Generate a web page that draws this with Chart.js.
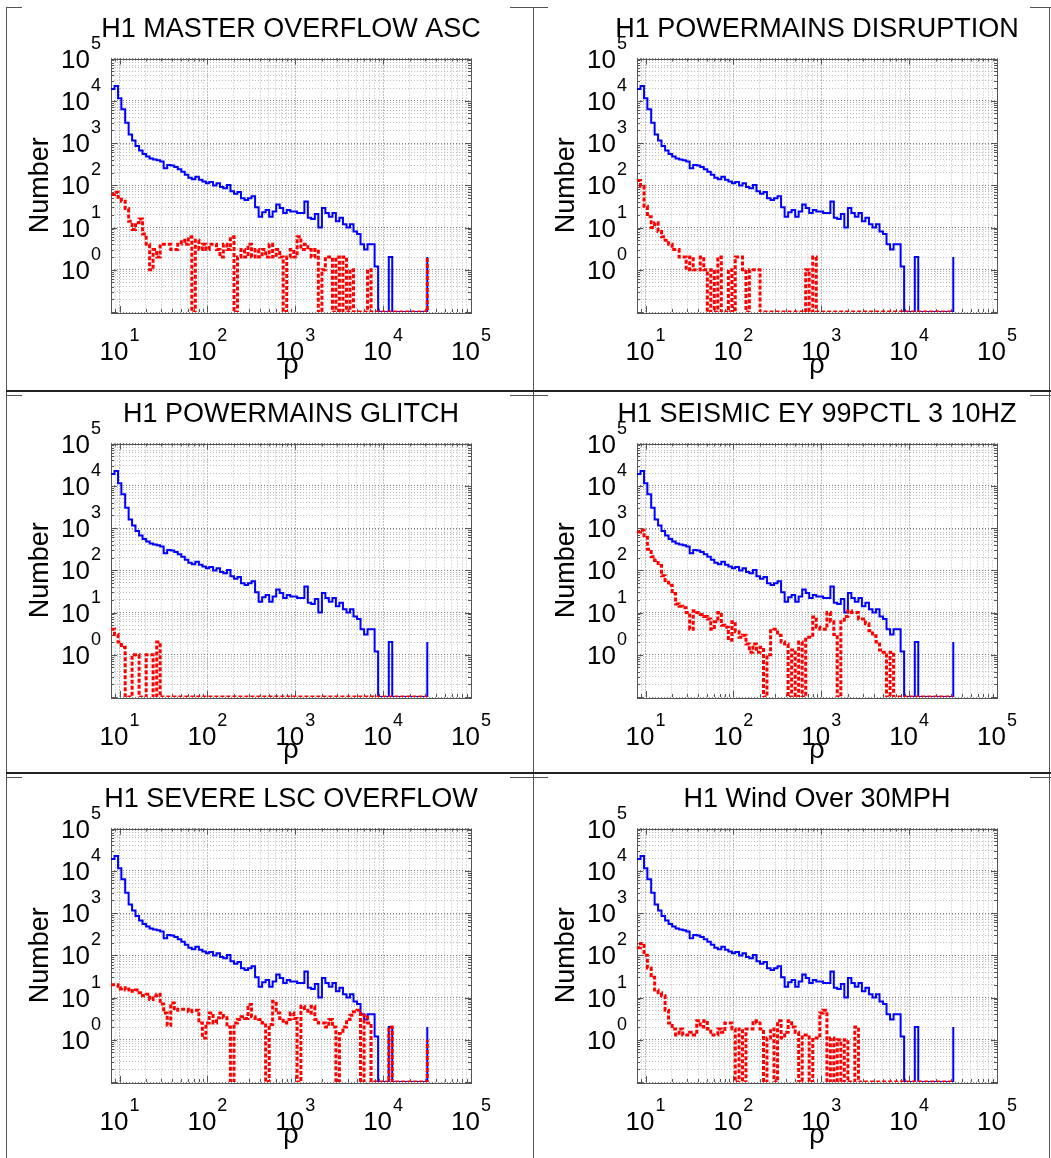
<!DOCTYPE html>
<html>
<head>
<meta charset="utf-8">
<script src="https://cdn.jsdelivr.net/npm/chart.js@4.4.1/dist/chart.umd.min.js"></script>
<style>
  html, body { margin: 0; padding: 0; background: #fff; overflow: hidden; }
  #page { position: relative; width: 1051px; height: 1158px; overflow: hidden; }
  .ln { position: absolute; background: #555; }
  .ln.thick { background: #222; }
  canvas { position: absolute; }
</style>
</head>
<body>
<div id="page">
  <div class="ln" style="left:6px;top:7px;width:1px;height:1151px"></div>
  <div class="ln" style="left:533px;top:7px;width:1px;height:1151px"></div>
  <div class="ln" style="left:1049px;top:7px;width:1px;height:1151px"></div>
  <div class="ln thick" style="left:6px;top:390px;width:1045px;height:2px"></div>
  <div class="ln thick" style="left:6px;top:772px;width:1045px;height:2px"></div>
  <div class="ln" style="left:6px;top:7px;width:16px;height:1px"></div>
  <div class="ln" style="left:510px;top:7px;width:38px;height:1px"></div>
  <div class="ln" style="left:1030px;top:7px;width:21px;height:1px"></div>
  <div class="ln" style="left:6px;top:395px;width:16px;height:1px"></div>
  <div class="ln" style="left:510px;top:395px;width:38px;height:1px"></div>
  <div class="ln" style="left:1030px;top:395px;width:21px;height:1px"></div>
  <div class="ln" style="left:6px;top:777px;width:16px;height:1px"></div>
  <div class="ln" style="left:510px;top:777px;width:38px;height:1px"></div>
  <div class="ln" style="left:1030px;top:777px;width:21px;height:1px"></div>
</div>
<script>
// histogram bin edges in rho (last entry closes the last bin)
const rhoEdges = [
  8.00, 8.77, 9.62, 10.5, 11.6, 12.7, 13.9, 15.2, 16.7, 18.3,
  20.1, 22.0, 24.1, 26.5, 29.0, 31.8, 34.9, 38.3, 42.0, 46.0,
  50.5, 55.3, 60.7, 66.5, 72.9, 80.0, 87.7, 96.2, 105, 116,
  127, 139, 152, 167, 183, 201, 220, 241, 265, 290,
  318, 349, 383, 420, 460, 505, 553, 607, 665, 729,
  800, 877, 962, 1050, 1160, 1270, 1390, 1520, 1670, 1830,
  2010, 2200, 2410, 2650, 2900, 3180, 3490, 3830, 4200, 4600,
  5050, 5530, 6070, 6650, 7290, 8000, 8770, 9620, 10500, 11600,
  12700, 13900, 15200, 16700, 18300, 20100, 22000, 24100, 26500, 29000,
  31800
];

// all triggers (blue, same in every panel)
const allTriggers = [
  19000, 22400, 11500, 6300, 3000, 1600, 1150, 850, 660, 550,
  480, 427, 407, 389, 363, 251, 302, 295, 269, 240,
  209, 178, 151, 138, 158, 135, 123, 112, 120, 98,
  112, 91, 85, 102, 72, 63, 69, 49, 45, 49,
  55, 30, 18, 23, 26, 18, 24, 35, 29, 22,
  26, 24, 24, 22, 22, 41, 17, 16, 21, 10,
  29, 22, 18, 22, 14, 17, 12, 10, 12, 8,
  7, 4, 3, 4, 4, 1.2, 0, 0, 0, 2,
  0, 0, 0, 0, 0, 0, 0, 0, 0, 0,
  2
];

// triggers coincident with each flag (red)
const masterOverflowAsc = [
  60, 68, 52, 42, 28, 14, 9, 13, 16, 7,
  4, 1, 3, 2, 4, 4, 4, 3, 3, 4,
  5, 4, 6, 0, 5, 3, 4, 3, 4, 4,
  3, 2, 4, 3, 6, 0, 2, 3, 2, 4,
  2, 3, 2, 3, 2, 4, 2, 3, 2, 0,
  2, 3, 2, 6, 3, 4, 3, 2, 3, 0,
  1, 2, 2, 0, 2, 0, 2, 0, 1, 0,
  0, 0, 0, 1, 0, 0, 0, 0, 0, 0,
  0, 0, 0, 0, 0, 0, 0, 0, 0, 0,
  2
];
const powermainsDisruption = [
  130, 95, 32, 18, 10, 13, 8, 6, 5, 4,
  3, 3, 2, 2, 1, 2, 1, 1, 2, 1,
  0, 1, 0, 2, 0, 0, 1, 0, 2, 2,
  1, 0, 1, 1, 1, 0, 0, 0, 0, 0,
  0, 0, 0, 0, 0, 0, 0, 0, 1, 0,
  2, 0, 0, 0, 0, 0, 0, 0, 0, 0,
  0, 0, 0, 0, 0, 0, 0, 0, 0, 0,
  0, 0, 0, 0, 0, 0, 0, 0, 0, 0,
  0, 0, 0, 0, 0, 0, 0, 0, 0, 0,
  0
];
const powermainsGlitch = [
  4, 3, 2, 1.5, 0, 0, 1, 1, 0, 0,
  1, 1, 0, 2, 0, 0, 0, 0, 0, 0,
  0, 0, 0, 0, 0, 0, 0, 0, 0, 0,
  0, 0, 0, 0, 0, 0, 0, 0, 0, 0,
  0, 0, 0, 0, 0, 0, 0, 0, 0, 0,
  0, 0, 0, 0, 0, 0, 0, 0, 0, 0,
  0, 0, 0, 0, 0, 0, 0, 0, 0, 0,
  0, 0, 0, 0, 0, 0, 0, 0, 0, 0,
  0, 0, 0, 0, 0, 0, 0, 0, 0, 0,
  0
];
const seismicEy = [
  800, 890, 600, 316, 210, 170, 130, 74, 52, 44,
  28, 16, 14, 13, 10, 4, 11, 10, 9, 8,
  7, 4, 6, 10, 5, 4.5, 2.2, 6, 3.5, 2.6,
  2.9, 1.8, 1.15, 1.8, 1.15, 1.5, 0, 1, 3.7, 4,
  2.9, 2, 1.8, 0, 1.3, 0, 2, 0, 2.6, 2.6,
  7.8, 4.5, 4, 4, 10, 6, 3, 0, 6, 8,
  11, 10, 10, 7, 7, 5.4, 3.7, 2.8, 2, 1.3,
  1.15, 0, 1.15, 0, 0, 0, 0, 0, 0, 0,
  0, 0, 0, 0, 0, 0, 0, 0, 0, 0,
  0
];
const severeLscOverflow = [
  20, 20, 16, 17, 15, 16, 14, 15, 13, 11,
  12, 9, 11, 12, 7, 4.3, 2.2, 7.4, 5, 5.3,
  5.3, 5.3, 4.6, 5, 5, 2.5, 1.1, 2.5, 4.3, 2.5,
  3.3, 4.3, 3.3, 2, 0, 2.5, 3, 3.5, 3.2, 6.8,
  3.5, 3.2, 3, 2.5, 0, 2.3, 8.1, 4.3, 3.2, 2.5,
  3, 4.3, 3.2, 0, 6.2, 5, 4.3, 6.2, 3, 2.5,
  2.5, 2, 3, 2, 0, 1.4, 2, 3, 3.8, 4.6,
  5, 0, 3.8, 2.5, 0, 0, 0, 0, 0, 2,
  0, 0, 0, 0, 0, 0, 0, 0, 0, 0,
  1
];
const windOver30mph = [
  150, 190, 100, 50, 30, 15, 13, 11, 5, 2.5,
  1.8, 1.3, 1.8, 1.3, 1.3, 1.5, 1.3, 2.8, 2, 2.8,
  1.8, 1.3, 1.3, 1.8, 1.5, 2.5, 2.5, 1.8, 0, 1.8,
  0, 1.8, 1.8, 2.8, 2.5, 1.8, 0, 1.1, 1.8, 0,
  2.8, 1.1, 1.5, 2.8, 2, 1.5, 0, 1.3, 1.3, 0,
  1.1, 1.1, 4.3, 5, 0, 1.1, 0, 1, 0, 1,
  0, 0, 2, 0, 0, 0, 0, 0, 0, 0,
  0, 0, 0, 0, 0, 0, 0, 0, 0, 0,
  0, 0, 0, 0, 0, 0, 0, 0, 0, 0,
  0
];

const panelTitles = [
  'H1 MASTER OVERFLOW ASC',
  'H1 POWERMAINS DISRUPTION',
  'H1 POWERMAINS GLITCH',
  'H1 SEISMIC EY 99PCTL 3 10HZ',
  'H1 SEVERE LSC OVERFLOW',
  'H1 Wind Over 30MPH'
];
const panelFlags = [masterOverflowAsc, powermainsDisruption, powermainsGlitch,
  seismicEy, severeLscOverflow, windOver30mph];

const xTickLabels = ['10^1', '10^2', '10^3', '10^4', '10^5'];
const yTickLabels = ['10^0', '10^1', '10^2', '10^3', '10^4', '10^5'];

const FONT = '"Liberation Sans", Arial, Helvetica, sans-serif';
const FLOOR = 0.1; // empty bins sit on the bottom of the axis

// 1..9 x 10^n grid positions
function gridTicks(lo, hi) {
  const out = [];
  for (let e = Math.floor(Math.log10(lo)); e <= Math.ceil(Math.log10(hi)); e++) {
    for (let m = 1; m <= 9; m++) {
      const v = m * Math.pow(10, e);
      if (v >= lo * 0.999 && v <= hi * 1.001) out.push({ value: v, major: m === 1 });
    }
  }
  return out;
}

function powerOf(lbl) {
  return Math.pow(10, Number(lbl.split('^')[1]));
}

function drawPower(ctx, lbl, x, y, align) {
  const [base, exp] = lbl.split('^');
  ctx.font = '26px ' + FONT;
  const bw = ctx.measureText(base).width;
  ctx.font = '18px ' + FONT;
  const ew = ctx.measureText(exp).width;
  const x0 = align === 'right' ? x - bw - ew - 1 : x - (bw + ew + 1) / 2;
  ctx.font = '26px ' + FONT;
  ctx.fillText(base, x0, y);
  ctx.font = '18px ' + FONT;
  ctx.fillText(exp, x0 + bw + 1, y - 19);
}

const panelDecor = {
  id: 'panelDecor',
  beforeDatasetsDraw(chart) {
    const { ctx, chartArea: a, scales: { x, y } } = chart;
    ctx.save();
    ctx.strokeStyle = '#555';
    ctx.lineWidth = 1;
    ctx.beginPath();
    x.ticks.forEach(t => {
      const px = Math.round(x.getPixelForValue(t.value)) + 0.5;
      const len = t.major ? 6 : 3;
      ctx.moveTo(px, a.bottom); ctx.lineTo(px, a.bottom - len);
      ctx.moveTo(px, a.top); ctx.lineTo(px, a.top + len);
    });
    y.ticks.forEach(t => {
      const py = Math.round(y.getPixelForValue(t.value)) + 0.5;
      const len = t.major ? 6 : 3;
      ctx.moveTo(a.left, py); ctx.lineTo(a.left + len, py);
      ctx.moveTo(a.right, py); ctx.lineTo(a.right - len, py);
    });
    ctx.stroke();
    ctx.strokeRect(Math.round(a.left) + 0.5, Math.round(a.top) + 0.5,
      Math.round(a.right - a.left), Math.round(a.bottom - a.top));
    ctx.restore();
  },
  afterDraw(chart, args, opts) {
    const { ctx, chartArea: a, scales: { x, y } } = chart;
    ctx.save();
    ctx.fillStyle = '#000';
    ctx.textBaseline = 'alphabetic';
    ctx.font = '27px ' + FONT;
    ctx.textAlign = 'center';
    ctx.fillText(opts.title, (a.left + a.right) / 2, a.top - 21.5);
    ctx.textAlign = 'left';
    yTickLabels.forEach(lbl => {
      drawPower(ctx, lbl, a.left - 10, y.getPixelForValue(powerOf(lbl)) + 9, 'right');
    });
    xTickLabels.forEach(lbl => {
      drawPower(ctx, lbl, x.getPixelForValue(powerOf(lbl)), a.bottom + 48, 'center');
    });
    ctx.restore();
  }
};

function toSteps(counts) {
  return rhoEdges.map((r, i) => ({ x: r, y: Math.max(counts[i], FLOOR) }));
}

const gridColor = c => (c.tick && c.tick.major) ? '#7d7d7d' : '#bcbcbc';
const titleFont = { family: FONT, size: 27, lineHeight: 1 };

const cells = [[0, 0], [526, 0], [0, 385], [526, 385], [0, 770], [526, 770]];
const page = document.getElementById('page');

panelTitles.forEach((title, i) => {
  const cv = document.createElement('canvas');
  cv.width = 582; cv.height = 385;
  cv.style.width = '582px'; cv.style.height = '385px';
  cv.style.left = cells[i][0] + 'px';
  cv.style.top = cells[i][1] + 'px';
  page.appendChild(cv);

  new Chart(cv, {
    type: 'line',
    data: {
      datasets: [
        {
          label: title,
          data: toSteps(panelFlags[i]),
          borderColor: '#ff0000',
          borderWidth: 3,
          borderDash: [4, 2],
          stepped: true,
          pointRadius: 0,
          fill: false
        },
        {
          label: 'all',
          data: toSteps(allTriggers),
          borderColor: '#0000ff',
          borderWidth: 2,
          stepped: true,
          pointRadius: 0,
          fill: false
        }
      ]
    },
    options: {
      responsive: false,
      animation: false,
      events: [],
      layout: { padding: { left: 0, right: 111, top: 58.5, bottom: 0 } },
      scales: {
        x: {
          type: 'logarithmic',
          min: 8,
          max: 1e5,
          afterBuildTicks: s => { s.ticks = gridTicks(8, 1e5); },
          ticks: { display: false },
          grid: { color: gridColor, drawTicks: false },
          border: { display: false, dash: [1, 2] },
          title: { display: true, text: 'ρ', color: '#000', font: titleFont,
                   padding: { top: 40.1, bottom: 5.9 } }
        },
        y: {
          type: 'logarithmic',
          min: FLOOR,
          max: 1e5,
          afterBuildTicks: s => { s.ticks = gridTicks(FLOOR, 1e5); },
          ticks: { display: false },
          grid: { color: gridColor, drawTicks: false },
          border: { display: false, dash: [1, 2] },
          title: { display: true, text: 'Number', color: '#000', font: titleFont,
                   padding: { top: 27.5, bottom: 56.5 } }
        }
      },
      plugins: {
        legend: { display: false },
        tooltip: { enabled: false },
        panelDecor: { title: title }
      }
    },
    plugins: [panelDecor]
  });
});
</script>
</body>
</html>
